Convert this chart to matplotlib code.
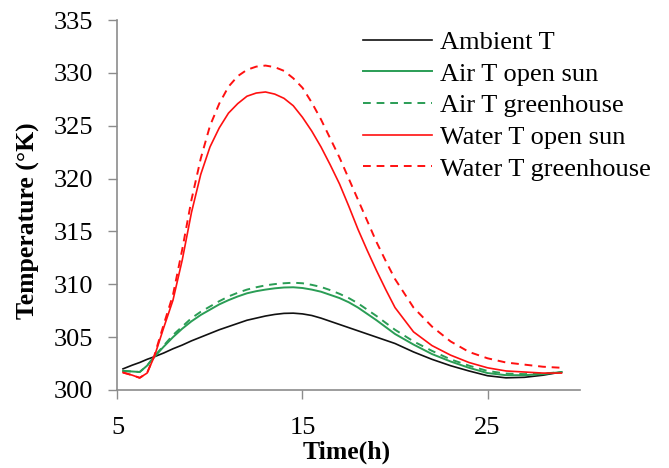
import numpy as np
import matplotlib.pyplot as plt

# time (h)
time = [5.3, 5.8, 6.2, 6.6, 7, 7.5, 8, 8.5, 9, 9.5, 10, 10.5, 11, 11.5, 12, 12.5,
        13, 13.5, 14, 14.5, 15, 15.5, 16, 16.5, 17, 17.5, 18, 18.5, 19, 19.5,
        20, 21, 22, 23, 24, 25, 26, 27, 28, 29]

ambient = [302.0, 302.35, 302.6, 302.9, 303.15, 303.5, 303.9, 304.25, 304.65, 305.0,
           305.35, 305.7, 306.0, 306.3, 306.6, 306.8, 307.0, 307.15, 307.25, 307.27,
           307.2, 307.05, 306.8, 306.5, 306.2, 305.9, 305.6, 305.3, 305.0, 304.7,
           304.4, 303.6, 302.9, 302.3, 301.8, 301.35, 301.15, 301.2, 301.4, 301.7]

air_open = [301.8, 301.75, 301.7, 302.3, 303.15, 304.1, 305.0, 305.8, 306.5, 307.1,
            307.6, 308.1, 308.5, 308.85, 309.15, 309.35, 309.5, 309.62, 309.7, 309.72,
            309.65, 309.5, 309.3, 309.0, 308.7, 308.3, 307.8, 307.2, 306.6, 305.95,
            305.3, 304.3, 303.4, 302.7, 302.1, 301.6, 301.4, 301.4, 301.5, 301.7]

air_gh = [301.8, 301.75, 301.7, 302.3, 303.2, 304.2, 305.2, 306.0, 306.8, 307.4,
          307.9, 308.4, 308.85, 309.2, 309.5, 309.72, 309.9, 310.02, 310.1, 310.15,
          310.1, 309.95, 309.75, 309.45, 309.1, 308.7, 308.2, 307.6, 307.0, 306.35,
          305.7, 304.6, 303.7, 302.9, 302.3, 301.8, 301.55, 301.5, 301.55, 301.7]

water_open = [301.65, 301.4, 301.15, 301.6, 303.2, 305.9, 308.5, 312.3, 316.8, 320.4,
              323.0, 324.8, 326.2, 327.1, 327.8, 328.1, 328.2, 328.0, 327.6, 326.9,
              325.8, 324.5, 323.0, 321.3, 319.5, 317.4, 315.2, 313.2, 311.3, 309.5,
              307.8, 305.5, 304.2, 303.3, 302.6, 302.1, 301.8, 301.7, 301.6, 301.6]

water_gh = [301.65, 301.4, 301.15, 301.6, 303.3, 306.2, 309.0, 313.3, 318.0, 321.9,
            325.0, 327.1, 328.7, 329.7, 330.3, 330.6, 330.7, 330.55, 330.2, 329.5,
            328.6, 327.2, 325.6, 323.8, 322.0, 320.0, 318.0, 316.0, 314.0, 312.2,
            310.5, 307.8, 306.0, 304.6, 303.6, 303.0, 302.6, 302.4, 302.2, 302.1]

labels = ['Ambient T', 'Air T open sun', 'Air T greenhouse',
          'Water T open sun', 'Water T greenhouse']

plt.rcParams['font.family'] = ['Liberation Serif', 'DejaVu Serif']

fig = plt.figure(figsize=(6.69, 4.68), dpi=100)
ax = fig.add_axes([0.1756, 0.1667, 0.867 - 0.1756, 0.957 - 0.1667])

green = '#2a9d55'
red = '#ff1010'
dash = (0, (4, 3))

ax.plot(time, ambient, color='#111111', lw=1.2, label=labels[0])
ax.plot(time, air_open, color=green, lw=1.4, label=labels[1])
ax.plot(time, air_gh, color=green, lw=1.4, ls=dash, label=labels[2])
ax.plot(time, water_open, color=red, lw=1.2, label=labels[3])
ax.plot(time, water_gh, color=red, lw=1.4, ls=dash, label=labels[4])

ax.set_xlim(5, 30)
ax.set_ylim(300, 335)
ax.set_xticks([5, 15, 25])
ax.set_yticks(np.arange(300, 336, 5))

for s in ['top', 'right']:
    ax.spines[s].set_visible(False)
for s in ['left', 'bottom']:
    ax.spines[s].set_color('#8c8c8c')
    ax.spines[s].set_linewidth(1.2)

ax.tick_params(axis='both', direction='out', length=6.5, width=1.0,
               color='#8c8c8c', labelsize=19)
ax.tick_params(axis='y', pad=11)
ax.tick_params(axis='x', pad=13)

ax.set_xlabel('Time(h)', fontsize=18.5, fontweight='bold', va='center')
ax.set_ylabel('Temperature (°K)', fontsize=18.5, fontweight='bold', va='center')
ax.xaxis.set_label_coords(0.495, -0.1676)
ax.yaxis.set_label_coords(-0.1935, 0.459)

ax.legend(loc='upper left', bbox_to_anchor=(0.5426, 0.935),
          bbox_transform=fig.transFigure, frameon=False, fontsize=19,
          handlelength=2.6, handletextpad=0.3, labelspacing=0.31,
          borderpad=0, borderaxespad=0)

fig.savefig('out.png', dpi=100)
